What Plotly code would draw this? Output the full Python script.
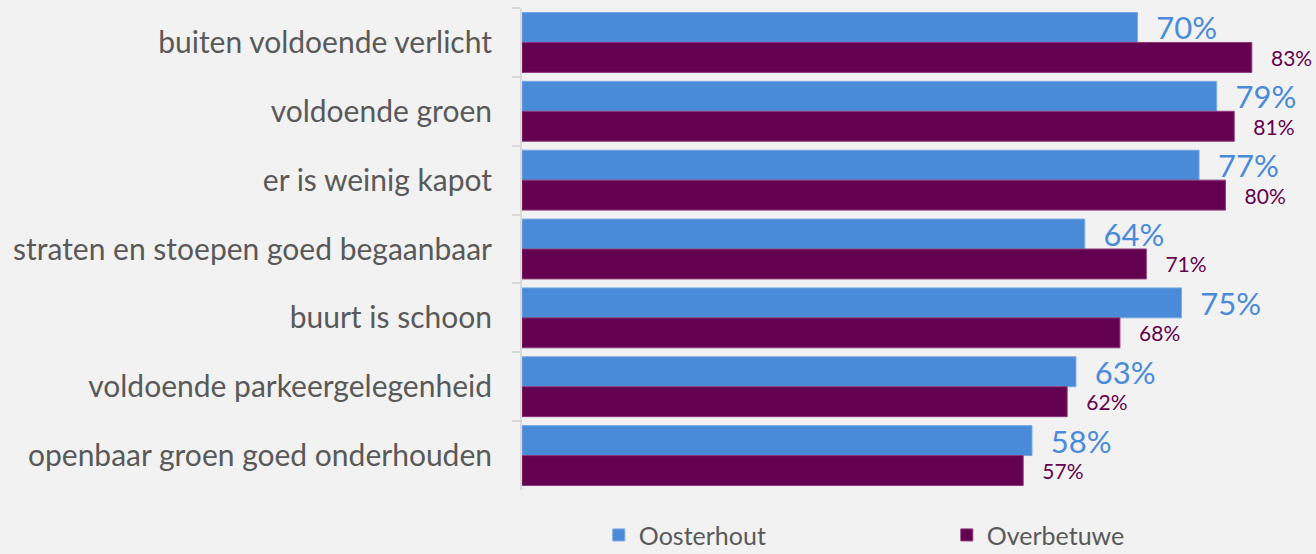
import plotly.graph_objects as go

categories = [
    "buiten voldoende verlicht",
    "voldoende groen",
    "er is weinig kapot",
    "straten en stoepen goed begaanbaar",
    "buurt is schoon",
    "voldoende parkeergelegenheid",
    "openbaar groen goed onderhouden",
]
oosterhout = [70, 79, 77, 64, 75, 63, 58]
overbetuwe = [83, 81, 80, 71, 68, 62, 57]

BLUE = "#4a8bd9"
PURPLE = "#640050"
FONT = "Lato"
NB = "\u00a0"

fig = go.Figure()
fig.add_trace(go.Bar(
    name="Oosterhout", y=categories, x=[v / 100 for v in oosterhout], orientation="h",
    marker=dict(color=BLUE, line=dict(color="#7aa8e2", width=1)),
    text=[f"{NB*2}{v}%" for v in oosterhout], textposition="outside",
    textfont=dict(family=FONT, size=31, color=BLUE), cliponaxis=False,
    constraintext="none",
))
fig.add_trace(go.Bar(
    name="Overbetuwe", y=categories, x=[v / 100 for v in overbetuwe], orientation="h",
    marker=dict(color=PURPLE, line=dict(color="#8a3a78", width=1)),
    text=[f"{NB*3}{v}%" for v in overbetuwe], textposition="outside",
    textfont=dict(family=FONT, size=21, color=PURPLE), cliponaxis=False,
    constraintext="none",
))

fig.update_layout(
    width=1316, height=554,
    margin=dict(l=522, r=0, t=8, b=64, autoexpand=False),
    paper_bgcolor="#f2f2f2", plot_bgcolor="#f2f2f2",
    barmode="group", bargap=0.13, bargroupgap=0,
    font=dict(family=FONT, color="#595959"),
    legend=dict(
        orientation="h", x=0.535, xanchor="center",
        yref="container", y=0.034, yanchor="middle",
        font=dict(family=FONT, size=25, color="#595959"),
        entrywidth=303, traceorder="normal", bgcolor="rgba(0,0,0,0)",
    ),
    showlegend=True,
)
fig.update_xaxes(range=[0, 0.903], visible=False, showgrid=False, zeroline=False)
fig.update_yaxes(
    autorange="reversed", showline=True, linecolor="#d9d9d9", linewidth=2,
    ticks="outside", tickson="boundaries", ticklen=8, tickcolor="#d9d9d9", tickwidth=2,
    tickfont=dict(family=FONT, size=30, color="#595959"), ticklabelstandoff=22,
    showgrid=False, zeroline=False, automargin=False,
)

fig.write_html(
    "out.html",
    config={"displayModeBar": False},
    post_script="document.body.style.margin='0';document.body.style.background='#f2f2f2';",
)
